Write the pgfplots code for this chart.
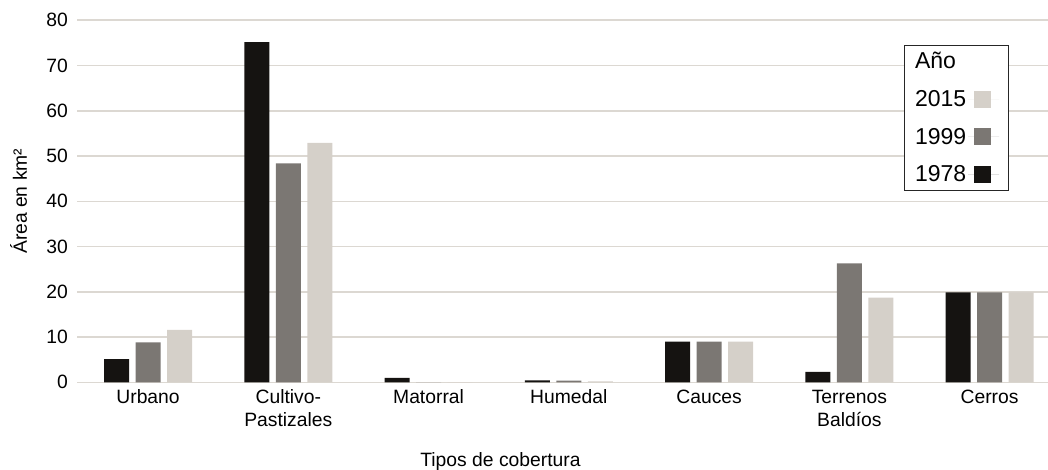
\documentclass[border=0pt]{standalone}
\usepackage{fontspec}
\setmainfont{Liberation Sans}
\usepackage{pgfplots}
\pgfplotsset{compat=1.18}
\definecolor{cA}{HTML}{151311}
\definecolor{cB}{HTML}{7B7773}
\definecolor{cC}{HTML}{D5D0C9}
\definecolor{gridc}{HTML}{DCD8D2}
\pgfplotsset{sqlegend/.style={legend image code/.code={\fill[##1] (6pt,-8.5pt) rectangle (23pt,8.5pt); \path (0pt,0pt) -- (31pt,0pt);}}}
\begin{document}
\begin{tikzpicture}
\begin{axis}[
  scale only axis, width=971pt, height=362pt,
  at={(0,0)}, anchor=south west,
  ybar=6.5pt, bar width=25pt,
  xmin=-0.503, xmax=6.42, ymin=0, ymax=80,
  xtick={0,1,2,3,4,5,6},
  xticklabels={Urbano, {Cultivo-\\Pastizales}, Matorral, Humedal, Cauces, {Terrenos\\Baldíos}, Cerros},
  xticklabel style={align=center, font=\fontsize{19.3}{23}\selectfont, text depth=0pt, yshift=-4pt},
  ytick={0,10,...,80},
  yticklabel style={font=\fontsize{19.3}{23}\selectfont, xshift=-6pt},
  /pgf/number format/assume math mode=true,
  major tick length=0pt,
  axis line style={draw=none},
  ymajorgrids, grid style={draw=gridc, line width=1.6pt},
  ylabel={Área en km²},
  ylabel style={at={(axis description cs:0,0.5)}, anchor=center, yshift=59pt, font=\fontsize{19.3}{23}\selectfont},
  xlabel={Tipos de cobertura},
  xlabel style={at={(axis description cs:0.4356,0)}, anchor=north, inner sep=0pt, yshift=-70pt, font=\fontsize{19.3}{23}\selectfont},
  legend style={at={(rel axis cs:0.8507,0.9318)}, anchor=north west, draw=black!85, line width=1pt,
    font=\fontsize{23}{26}\selectfont, row sep=16pt, inner xsep=9pt, inner ysep=5pt},
  legend cell align=left,
  legend plot pos=right,
  reverse legend,
]
\addplot[fill=cA, draw=none, sqlegend]
  coordinates {(0,5.1) (1,75.2) (2,1.0) (3,0.4) (4,9.0) (5,2.3) (6,19.9)};
\addlegendentry{1978}
\addplot[fill=cB, draw=none, sqlegend]
  coordinates {(0,8.8) (1,48.4) (2,0) (3,0.35) (4,9.0) (5,26.3) (6,19.9)};
\addlegendentry{1999}
\addplot[fill=cC, draw=none, sqlegend]
  coordinates {(0,11.6) (1,52.9) (2,0) (3,0.2) (4,9.0) (5,18.7) (6,19.9)};
\addlegendentry{2015}
\addlegendimage{empty legend}
\addlegendentry{Año}
\end{axis}
\pgfresetboundingbox
\useasboundingbox (-77.5pt,-86.7pt) rectangle (970.5pt,382.3pt);
\end{tikzpicture}
\end{document}
